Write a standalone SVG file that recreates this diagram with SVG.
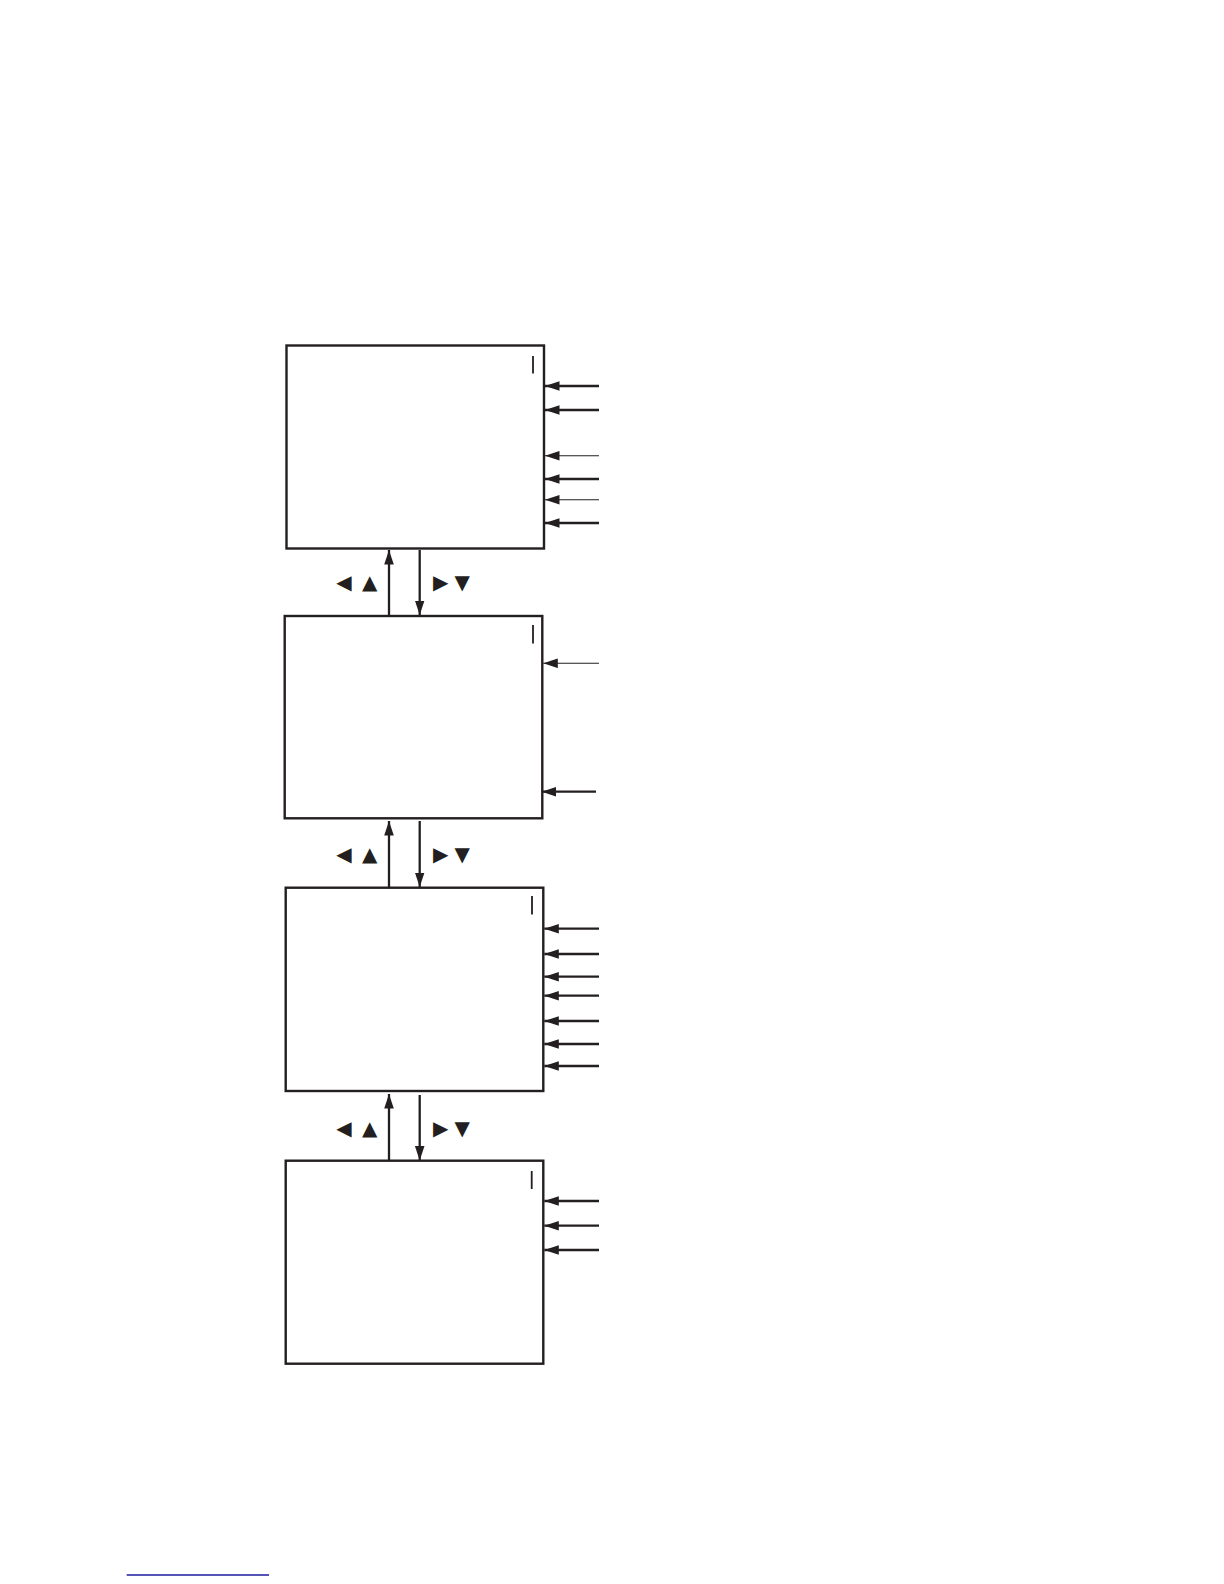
<svg xmlns="http://www.w3.org/2000/svg" width="1224" height="1584" viewBox="0 0 1224 1584">
<style>
.box{fill:#fff;stroke:#231f20;stroke-width:2.4}
.bar{stroke:#231f20;stroke-width:1.8}
.thick{stroke:#231f20;stroke-width:2.3;fill:none;marker-end:url(#ah)}
.thin{stroke:#231f20;stroke-width:1.1;fill:none;marker-end:url(#ah)}
.sym{font-family:"DejaVu Sans",sans-serif;font-size:20px;fill:#231f20;text-anchor:middle}
</style>
<defs>
<marker id="ah" markerUnits="userSpaceOnUse" markerWidth="15" markerHeight="11" refX="14.5" refY="5" orient="auto">
<path d="M0,0.2 L14.5,5 L0,9.8 z" fill="#231f20"/>
</marker>
</defs>
<rect width="1224" height="1584" fill="#fff"/>
<g id="screen1">
<rect class="box" x="286.5" y="345.5" width="257.5" height="203"/>
<line class="bar" x1="533" y1="356" x2="533" y2="373.5"/>
</g>
<g id="screen2">
<rect class="box" x="284.7" y="616" width="257.6" height="202.3"/>
<line class="bar" x1="533" y1="625" x2="533" y2="643.5"/>
</g>
<g id="screen3">
<rect class="box" x="285.7" y="887.7" width="257.6" height="203.3"/>
<line class="bar" x1="532" y1="896" x2="532" y2="914.5"/>
</g>
<g id="screen4">
<rect class="box" x="285.7" y="1160.7" width="257.6" height="203"/>
<line class="bar" x1="531.7" y1="1171" x2="531.7" y2="1189"/>
</g>
<g id="connectors">
<path class="thick" d="M599,386 H545"/>
<path class="thick" d="M599,410 H545"/>
<path class="thin" d="M599,455.7 H545"/>
<path class="thick" d="M599,479 H545"/>
<path class="thin" d="M599,499.7 H545"/>
<path class="thick" d="M599,523 H545"/>
<path class="thin" d="M599,663.3 H543.3"/>
<path class="thick" d="M596,791.7 H541.7"/>
<path class="thick" d="M599,928.7 H544.3"/>
<path class="thick" d="M599,954 H544.3"/>
<path class="thick" d="M599,976.7 H544.3"/>
<path class="thick" d="M599,995.7 H544.3"/>
<path class="thick" d="M599,1021 H544.3"/>
<path class="thick" d="M599,1044 H544.3"/>
<path class="thick" d="M599,1066 H544.3"/>
<path class="thick" d="M599,1201 H544.3"/>
<path class="thick" d="M599,1225.7 H544.3"/>
<path class="thick" d="M599,1250 H544.3"/>
<path class="thick" d="M389,616 V550"/>
<path class="thick" d="M419.7,550 V615"/>
<path class="thick" d="M389,887.7 V821"/>
<path class="thick" d="M419.7,821 V887"/>
<path class="thick" d="M389,1160.7 V1094"/>
<path class="thick" d="M419.7,1095 V1160.5"/>
</g>
<g id="keys1">
<text class="sym" x="344" y="589">◀</text>
<text class="sym" x="369.7" y="589">▲</text>
<text class="sym" x="440.8" y="589">▶</text>
<text class="sym" x="462.2" y="589">▼</text>
</g>
<g id="keys2">
<text class="sym" x="344" y="860.7">◀</text>
<text class="sym" x="369.7" y="860.7">▲</text>
<text class="sym" x="440.8" y="860.7">▶</text>
<text class="sym" x="462.2" y="860.7">▼</text>
</g>
<g id="keys3">
<text class="sym" x="344" y="1135">◀</text>
<text class="sym" x="369.7" y="1135">▲</text>
<text class="sym" x="440.8" y="1135">▶</text>
<text class="sym" x="462.2" y="1135">▼</text>
</g>
<line x1="126.7" y1="1575" x2="269" y2="1575" stroke="#1c1c9c" stroke-width="1.3"/>
</svg>
